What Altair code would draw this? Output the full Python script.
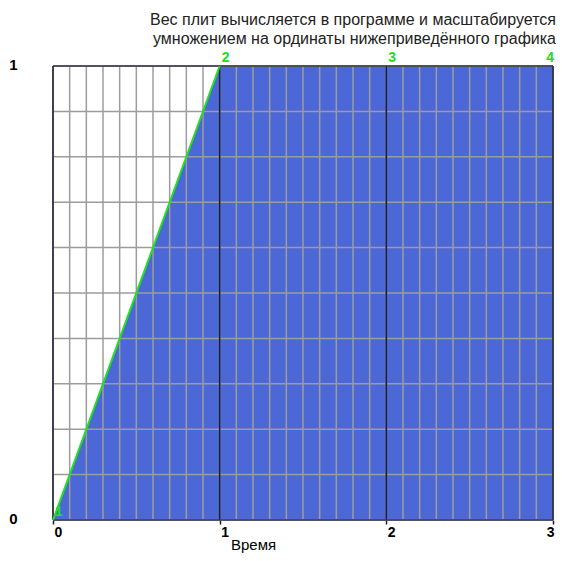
import altair as alt
import pandas as pd

# data
point_ids = ["1", "2", "3", "4"]
times = [0, 1, 2, 3]
ordinates = [0, 1, 1, 1]
slope_t = [0, 1]
slope_y = [0, 1]
x_grid = [round(i * 0.1, 1) for i in range(0, 31)]
y_grid = [round(i * 0.1, 1) for i in range(0, 11)]
x_major = [0, 1, 2, 3]
y_major = [0, 1]
title_lines = ["Вес плит вычисляется в программе и масштабируется",
               "умножением на ординаты нижеприведённого графика"]

pts = pd.DataFrame({"t": times, "v": ordinates, "id": point_ids})
slope = pd.DataFrame({"t": slope_t, "v": slope_y})
xg = pd.DataFrame({"t": x_grid})
yg = pd.DataFrame({"v": y_grid})
xm = pd.DataFrame({"t": x_major})
ym = pd.DataFrame({"v": y_major})

FONT = "Liberation Sans"
xs = alt.Scale(domain=[0, 3], nice=False, zero=False)
ys = alt.Scale(domain=[0, 1], nice=False, zero=False)

x_axis = alt.Axis(values=x_major, format="d", grid=False, domain=False,
                  ticks=True, tickSize=4, tickColor="#1a1a2e", tickWidth=1.5,
                  labelFont=FONT, labelFontWeight="bold", labelFontSize=14,
                  labelAlign={"condition": {"test": "datum.value >= 3", "value": "right"},
                              "value": "left"},
                  labelOffset=1, labelPadding=1, labelColor="#000",
                  labelFlush=False,
                  title="Время", titleFont=FONT, titleFontSize=15, titleFontWeight="normal",
                  titleColor="#000", titleX=200, titleY=29, titleAlign="center",
                  titleBaseline="alphabetic")
y_axis = alt.Axis(values=y_major, format="d", grid=False, domain=False, ticks=False,
                  labelFont=FONT, labelFontWeight="bold", labelFontSize=15,
                  labelPadding=36, labelOffset=-2, labelColor="#000", labelFlush=False,
                  title=None)

area = alt.Chart(pts).mark_area(color="#4c68d7", opacity=1, line=False).encode(
    x=alt.X("t:Q", scale=xs, axis=x_axis),
    y=alt.Y("v:Q", scale=ys, axis=y_axis),
)

vgrid = alt.Chart(xg).mark_rule(color="#9c9c9c", strokeWidth=1.5).encode(
    x=alt.X("t:Q", scale=xs))
hgrid = alt.Chart(yg).mark_rule(color="#9c9c9c", strokeWidth=1.5).encode(
    y=alt.Y("v:Q", scale=ys))
vmajor = alt.Chart(xm).mark_rule(color="#1a1a2e", strokeWidth=1.5).encode(
    x=alt.X("t:Q", scale=xs))
hmajor = alt.Chart(ym).mark_rule(color="#333344", strokeWidth=1.5).encode(
    y=alt.Y("v:Q", scale=ys))

green = alt.Chart(slope).mark_line(color="#22e022", strokeWidth=2).encode(
    x=alt.X("t:Q", scale=xs), y=alt.Y("v:Q", scale=ys))

labels_left = alt.Chart(pts).transform_filter("datum.t < 3").mark_text(
    color="#22dd22", font=FONT, fontWeight="bold", fontSize=14, align="left",
    baseline="alphabetic", dx=2, dy=-4).encode(
    x=alt.X("t:Q", scale=xs), y=alt.Y("v:Q", scale=ys), text="id:N")
labels_right = alt.Chart(pts).transform_filter("datum.t >= 3").mark_text(
    color="#22dd22", font=FONT, fontWeight="bold", fontSize=14, align="right",
    baseline="alphabetic", dx=1, dy=-4).encode(
    x=alt.X("t:Q", scale=xs), y=alt.Y("v:Q", scale=ys), text="id:N")

chart = alt.layer(area, vgrid, hgrid, vmajor, hmajor, green,
                  labels_left, labels_right).properties(
    width=500, height=454,
    autosize=alt.AutoSizeParams(type="none"),
    padding={"left": 45, "top": 58, "right": 3, "bottom": 33},
    title=alt.TitleParams(text=title_lines, anchor="end", frame="group", font=FONT,
                          fontSize=16, fontWeight="normal", color="#222",
                          lineHeight=19, offset=4, dx=3),
).configure_view(stroke=None)

chart.save("out.html", embed_options={"renderer": "svg", "actions": False})
